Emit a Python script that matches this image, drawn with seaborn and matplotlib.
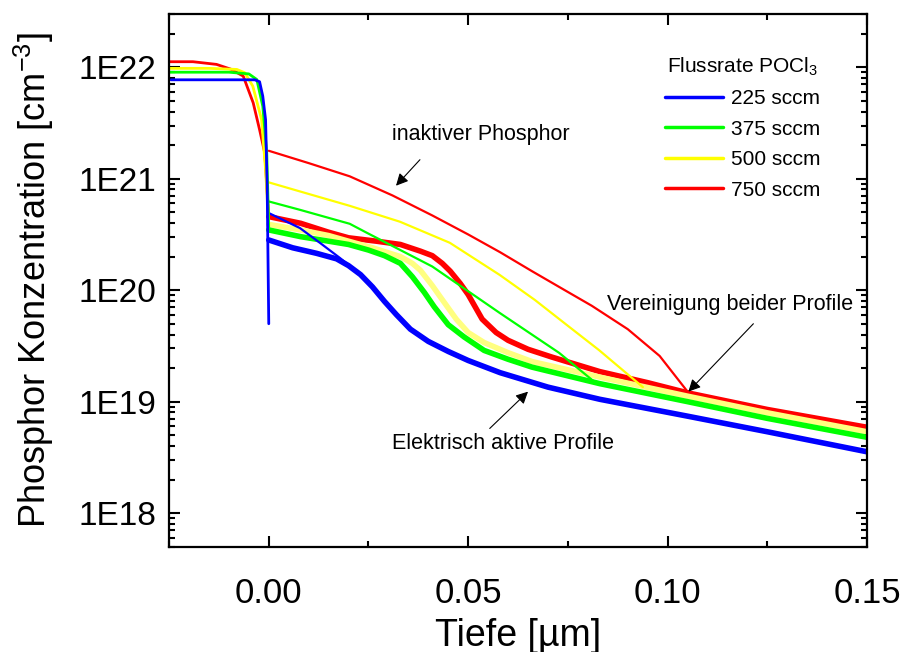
import numpy as np
import pandas as pd
import matplotlib
matplotlib.use("Agg")
import matplotlib.pyplot as plt
import seaborn as sns
from matplotlib.ticker import FixedLocator, FuncFormatter, LogLocator, NullFormatter
from matplotlib.lines import Line2D

# POCl3 flow rates and colours
flows = ["225 sccm", "375 sccm", "500 sccm", "750 sccm"]
line_colors = ["#0000ff", "#00ff00", "#ffff00", "#ff0000"]
thick_colors = ["#0000ff", "#00ff00", "#ffff80", "#ff0000"]

# electrically active profiles (thick), depth in um, concentration in cm^-3
act_225_x = [0, 0.006, 0.012, 0.017, 0.020, 0.023, 0.026, 0.029, 0.032, 0.0355, 0.040, 0.045, 0.050, 0.058, 0.070, 0.083, 0.105, 0.125, 0.150]
act_225_y = [2.82e20, 2.40e20, 2.14e20, 1.91e20, 1.66e20, 1.38e20, 1.07e20, 7.94e19, 6.03e19, 4.47e19, 3.47e19, 2.82e19, 2.34e19, 1.82e19, 1.35e19, 1.05e19, 7.41e18, 5.37e18, 3.55e18]
act_375_x = [0, 0.008, 0.015, 0.020, 0.025, 0.029, 0.033, 0.036, 0.039, 0.0415, 0.045, 0.049, 0.054, 0.060, 0.066, 0.083, 0.105, 0.125, 0.150]
act_375_y = [3.47e20, 3.02e20, 2.75e20, 2.57e20, 2.29e20, 2.04e20, 1.74e20, 1.32e20, 9.55e19, 7.08e19, 4.90e19, 3.80e19, 2.88e19, 2.40e19, 2.04e19, 1.45e19, 1.00e19, 7.08e18, 4.79e18]
act_500_x = [0, 0.008, 0.015, 0.020, 0.026, 0.033, 0.036, 0.038, 0.041, 0.043, 0.047, 0.050, 0.054, 0.060, 0.066, 0.083, 0.105, 0.125, 0.150]
act_500_y = [3.89e20, 3.47e20, 3.09e20, 2.75e20, 2.40e20, 2.00e20, 1.74e20, 1.51e20, 1.10e20, 8.71e19, 5.50e19, 4.17e19, 3.39e19, 2.75e19, 2.29e19, 1.66e19, 1.12e19, 7.94e18, 5.37e18]
act_750_x = [0, 0.008, 0.015, 0.020, 0.027, 0.033, 0.038, 0.041, 0.0435, 0.0455, 0.048, 0.050, 0.0535, 0.057, 0.060, 0.065, 0.071, 0.083, 0.095, 0.105, 0.125, 0.150]
act_750_y = [4.57e20, 3.98e20, 3.31e20, 2.95e20, 2.75e20, 2.57e20, 2.24e20, 2.04e20, 1.74e20, 1.48e20, 1.15e20, 9.12e19, 5.50e19, 4.17e19, 3.55e19, 2.95e19, 2.51e19, 1.86e19, 1.48e19, 1.20e19, 8.51e18, 5.89e18]

# total phosphorus profiles (thin) until they join the active ones
tot_225_x = [0, 0.0078, 0.013, 0.0178, 0.021]
tot_225_y = [4.92e20, 3.61e20, 2.63e20, 1.95e20, 1.58e20]
tot_375_x = [0, 0.0078, 0.0203, 0.0246, 0.041, 0.0579, 0.0728, 0.0820]
tot_375_y = [6.25e20, 5.26e20, 3.94e20, 3.27e20, 1.63e20, 6.25e19, 2.74e19, 1.47e19]
tot_500_x = [0, 0.0078, 0.0203, 0.0329, 0.0454, 0.0579, 0.0667, 0.0747, 0.0828, 0.0938]
tot_500_y = [9.27e20, 7.69e20, 5.71e20, 4.11e20, 2.66e20, 1.37e20, 8.18e19, 4.88e19, 2.90e19, 1.35e19]
tot_750_x = [0, 0.010, 0.0203, 0.031, 0.041, 0.050, 0.058, 0.066, 0.0747, 0.081, 0.090, 0.098, 0.105]
tot_750_y = [1.78e21, 1.38e21, 1.05e21, 7.08e20, 4.68e20, 3.16e20, 2.19e20, 1.48e20, 9.77e19, 7.24e19, 4.47e19, 2.57e19, 1.23e19]

# phosphorus in the PSG layer (negative depth)
psg_225_x = [-0.0245, -0.0035, -0.0023, -0.0015, -0.0008, -0.0004, 0.0]
psg_225_y = [7.71e21, 7.71e21, 7.41e21, 5.50e21, 3.39e21, 8.51e20, 5.0e19]
psg_375_x = [-0.025, -0.010, -0.005, -0.003, -0.0015, -0.0005, 0.0]
psg_375_y = [9.02e21, 9.02e21, 8.71e21, 7.76e21, 4.47e21, 1.70e21, 3.47e20]
psg_500_x = [-0.025, -0.015, -0.008, -0.006, -0.004, -0.0018, -0.0008, 0.0]
psg_500_y = [9.77e21, 9.77e21, 9.55e21, 8.91e21, 6.76e21, 3.39e21, 1.20e21, 3.89e20]
psg_750_x = [-0.025, -0.019, -0.0131, -0.0095, -0.0064, -0.0039, -0.0023, -0.001, 0.0]
psg_750_y = [1.12e22, 1.12e22, 1.06e22, 9.6e21, 8.32e21, 4.79e21, 2.75e21, 1.70e21, 4.57e20]

active = [(act_225_x, act_225_y), (act_375_x, act_375_y), (act_500_x, act_500_y), (act_750_x, act_750_y)]
total = [(tot_225_x, tot_225_y), (tot_375_x, tot_375_y), (tot_500_x, tot_500_y), (tot_750_x, tot_750_y)]
psg = [(psg_225_x, psg_225_y), (psg_375_x, psg_375_y), (psg_500_x, psg_500_y), (psg_750_x, psg_750_y)]

sns.set_theme(style="ticks")
plt.rcParams['font.family'] = ['Liberation Sans', 'DejaVu Sans']
plt.rcParams['mathtext.fontset'] = 'custom'
plt.rcParams['mathtext.rm'] = 'Liberation Sans'
plt.rcParams['mathtext.it'] = 'Liberation Sans'
plt.rcParams['text.color'] = 'black'
plt.rcParams['axes.labelcolor'] = 'black'
plt.rcParams['xtick.color'] = 'black'
plt.rcParams['ytick.color'] = 'black'

fig = plt.figure(figsize=(9.03, 6.52), dpi=100)
ax = fig.add_axes([0.1872, 0.1615, 0.7730, 0.8170])

order = [3, 2, 1, 0]
for i in order:
    x, y = active[i]
    sns.lineplot(x=x, y=y, ax=ax, color=thick_colors[i], lw=4.0, sort=False, estimator=None)
for i in order:
    x, y = total[i]
    sns.lineplot(x=x, y=y, ax=ax, color=line_colors[i], lw=1.6, sort=False, estimator=None)
for i in order:
    x, y = psg[i]
    sns.lineplot(x=x, y=y, ax=ax, color=line_colors[i], lw=2.0, sort=False, estimator=None)

ax.set_yscale('log')
ax.set_xlim(-0.025, 0.15)
ax.set_ylim(5e17, 3e22)

ax.xaxis.set_major_locator(FixedLocator([0.0, 0.05, 0.10, 0.15]))
ax.xaxis.set_minor_locator(FixedLocator([-0.025, 0.025, 0.075, 0.125]))
ax.xaxis.set_major_formatter(FuncFormatter(lambda v, _: f"{v:.2f}"))
ax.yaxis.set_major_locator(FixedLocator([1e18, 1e19, 1e20, 1e21, 1e22]))
ax.yaxis.set_minor_locator(LogLocator(base=10, subs=range(2, 10)))
ax.yaxis.set_major_formatter(FuncFormatter(lambda v, _: f"1E{int(round(np.log10(v)))}"))
ax.yaxis.set_minor_formatter(NullFormatter())

ax.tick_params(which='both', direction='in', top=True, right=True, width=1.5, color='black')
ax.tick_params(which='major', length=8)
ax.tick_params(which='minor', length=4.5)
ax.tick_params(axis='y', labelsize=24, pad=9)
ax.tick_params(axis='x', labelsize=25, pad=22)
for sp in ax.spines.values():
    sp.set_linewidth(1.6)
    sp.set_color('black')

ax.set_xlabel("Tiefe [µm]", fontsize=27)
ax.set_ylabel("Phosphor Konzentration [cm$^{-3}$]", fontsize=26)
ax.xaxis.set_label_coords(0.5, -0.133)
ax.yaxis.set_label_coords(-0.162, 0.5)

arrow = dict(arrowstyle='-|>', color='black', lw=0.8, mutation_scale=18, shrinkA=0, shrinkB=0)
ax.text(0.0309, 2.48e21, "inaktiver Phosphor", fontsize=15.5, ha='left', va='center')
ax.annotate("", xy=(0.0319, 8.65e20), xytext=(0.0379, 1.48e21), arrowprops=arrow)
ax.text(0.0848, 7.38e19, "Vereinigung beider Profile", fontsize=15.5, ha='left', va='center')
ax.annotate("", xy=(0.1052, 1.23e19), xytext=(0.1215, 5.0e19), arrowprops=arrow)
ax.text(0.0309, 4.25e18, "Elektrisch aktive Profile", fontsize=15.5, ha='left', va='center')
ax.annotate("", xy=(0.065, 1.23e19), xytext=(0.0554, 5.75e18), arrowprops=arrow)

handles = [Line2D([], [], color=c, lw=2.5) for c in line_colors]
leg = ax.legend(handles, flows, title="Flussrate POCl$_3$", fontsize=15, title_fontsize=15,
                loc='upper left', bbox_to_anchor=(0.7106, 0.922), frameon=False,
                handlelength=2.8, handletextpad=0.35, labelspacing=0.55, borderpad=0, borderaxespad=0)

fig.savefig("out.png", dpi=100)
